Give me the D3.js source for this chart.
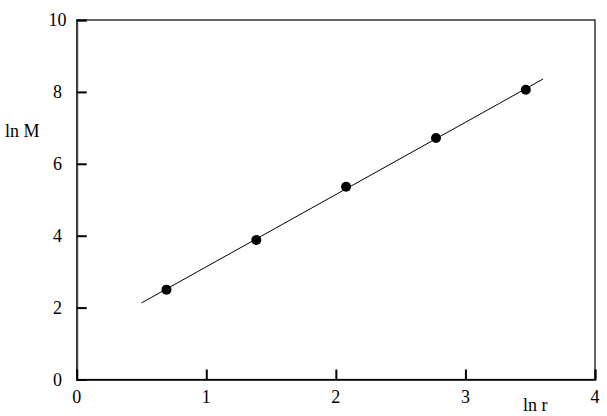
<!DOCTYPE html>
<html>
<head>
<meta charset="utf-8">
<script src="https://cdn.jsdelivr.net/npm/d3@7"></script>
<style>
  body { margin: 0; background: #fff; }
  text { font-family: "Liberation Serif", "Times New Roman", serif; font-size: 18px; fill: #000; }
</style>
</head>
<body>
<svg width="607" height="416"></svg>
<script>
// data
var lnR = [0.693, 1.386, 2.079, 2.773, 3.466];
var lnM = [2.50, 3.88, 5.36, 6.72, 8.06];
// fitted line endpoints
var fitX = [0.50, 3.60];
var fitY = [2.13, 8.36];
var xTicks = [0, 1, 2, 3, 4];
var yTicks = [0, 2, 4, 6, 8, 10];

var svg = d3.select("svg");

var x = d3.scaleLinear().domain([0, 4]).range([76.7, 595]);
var y = d3.scaleLinear().domain([0, 10]).range([379.5, 20]);

// frame
svg.append("rect")
    .attr("x", x(0)).attr("y", y(10))
    .attr("width", x(4) - x(0)).attr("height", y(0) - y(10))
    .attr("fill", "none").attr("stroke", "#000").attr("stroke-width", 1.2);

// left axis (ticks inside)
var yAxis = svg.append("g")
    .attr("transform", "translate(" + x(0) + ",0)")
    .call(d3.axisRight(y).tickValues(yTicks).tickSize(10).tickFormat(""));
yAxis.select(".domain").attr("stroke", "#444").attr("stroke-width", 2);
yAxis.selectAll(".tick line").attr("stroke", "#000").attr("stroke-width", 2);

// bottom axis (ticks inside)
var xAxis = svg.append("g")
    .attr("transform", "translate(0," + y(0) + ")")
    .call(d3.axisTop(x).tickValues(xTicks).tickSize(10).tickFormat(""));
xAxis.select(".domain").attr("stroke", "#000").attr("stroke-width", 1.6);
xAxis.selectAll(".tick line").attr("stroke", "#000").attr("stroke-width", 2);

// tick labels
svg.selectAll(".ylab").data(yTicks).enter().append("text")
    .attr("class", "ylab")
    .attr("x", 57.5).attr("y", function (d) { return y(d); })
    .attr("dy", "0.35em").attr("text-anchor", "middle")
    .text(function (d) { return d; });

svg.selectAll(".xlab").data(xTicks).enter().append("text")
    .attr("class", "xlab")
    .attr("x", function (d) { return x(d); }).attr("y", 403)
    .attr("text-anchor", "middle")
    .text(function (d) { return d; });

// axis titles
svg.append("text").attr("x", 5).attr("y", 137).text("ln M");
svg.append("text").attr("x", 523).attr("y", 411).text("ln r");

// fit line
svg.append("line")
    .attr("x1", x(fitX[0])).attr("y1", y(fitY[0]))
    .attr("x2", x(fitX[1])).attr("y2", y(fitY[1]))
    .attr("stroke", "#000").attr("stroke-width", 1);

// points
svg.selectAll("circle").data(lnR).enter().append("circle")
    .attr("cx", function (d) { return x(d); })
    .attr("cy", function (d, i) { return y(lnM[i]); })
    .attr("r", 5)
    .attr("fill", "#000");
</script>
</body>
</html>
